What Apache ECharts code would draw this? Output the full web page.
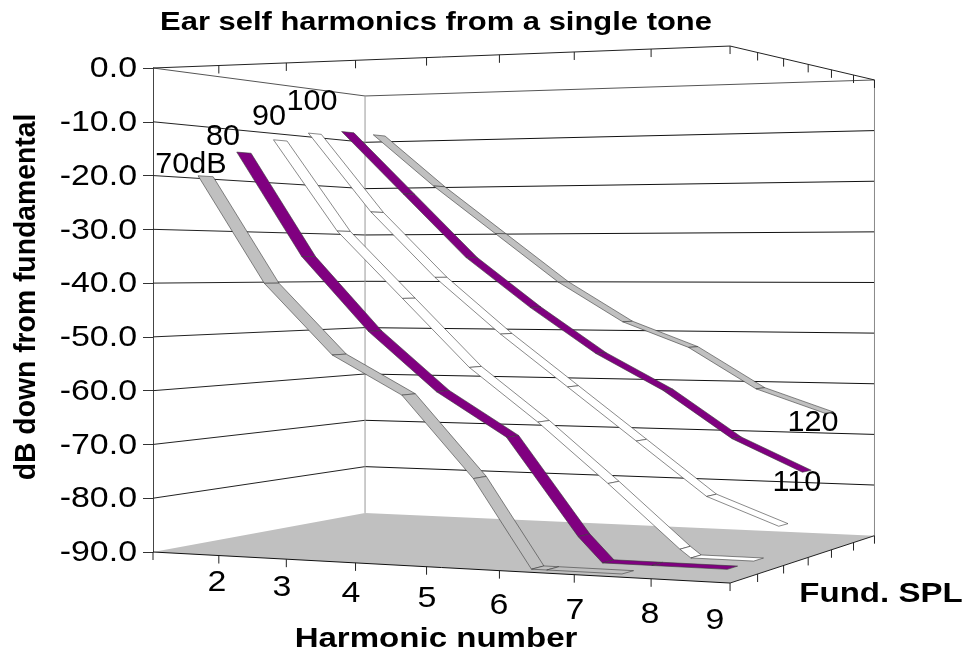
<!DOCTYPE html>
<html>
<head>
<meta charset="utf-8">
<style>
    html, body { margin: 0; padding: 0; background: #fff; }
    #main { width: 966px; height: 654px; }
</style>
<script src="https://cdn.jsdelivr.net/npm/echarts@6/dist/echarts.min.js"></script>
</head>
<body>
<div id="main"></div>
<script>
    // values, dB per harmonic. below -90 = under the floor, gets clipped
    var harmonics = [2, 3, 4, 5, 6, 7, 8, 9];
    var splNames = ['70dB', '80', '90', '100', '110', '120'];
    var spl70 = [-20, -40, -53, -60, -74.5, -94, -100, null];
    var spl80 = [-15, -35, -49, -60, -68, -85.5, -99, -105];
    var spl90 = [-12, -30, -43, -56, -66, -77, -88.5, -98.5];
    var spl100 = [-10, -26, -39, -50, -60, -70, -80, -85];
    var spl110 = [-9, -22, -35, -45, -54, -61, -70, -76];
    var spl120 = [-9, -20, -30, -40, -48, -53, -61, -65.5];
    var splColors = ['#c0c0c0', '#800080', '#ffffff', '#ffffff', '#800080', '#c0c0c0'];
    var dbTicks = [0, -10, -20, -30, -40, -50, -60, -70, -80, -90];

    var allSpl = [spl70, spl80, spl90, spl100, spl110, spl120];
    var FLOOR = -90, HALF_W = 0.032, EDGE = '#3a3a3a';
    var FONT = '"Liberation Sans", Arial, sans-serif';

    // perspective box, fitted from the eight corners of the plot
    function project(u, w, db) {
        var d = 1 - 0.0987 * u + 0.1607 * w;
        var t = (db - FLOOR) / -FLOOR;
        return [
            (505 * u + 270.7 * w + 153) / d,
            (552 - 26.5 * u + 43.4 * w - 484 * t) / d
        ];
    }

    // screen y back to the value of the y axis, so everything goes through api.coord
    function toCoord(api, p) {
        return api.coord([p[0], FLOOR + (552 - p[1]) / 484 * -FLOOR]);
    }

    function harmU(i) { return (i + 0.5) / harmonics.length; }
    function splW(j) { return (j + 0.5) / splNames.length; }

    // excel cuts the ribbon where it meets the floor and runs along it
    function clipRibbon(vals) {
        var out = [];
        for (var i = 0; i < vals.length; i++) {
            if (vals[i] === null) break;
            if (i > 0 && vals[i - 1] > FLOOR && vals[i] < FLOOR) {
                out.push([i - 1 + (vals[i - 1] - FLOOR) / (vals[i - 1] - vals[i]), FLOOR]);
            }
            out.push([i, Math.max(vals[i], FLOOR)]);
        }
        var segs = [];
        for (var k = 1; k < out.length; k++) {
            segs.push([out[k - 1][0], out[k - 1][1], out[k][0], out[k][1]]);
        }
        return segs;
    }

    function seg(api, a, b, color, width) {
        var p = toCoord(api, a), q = toCoord(api, b);
        return {
            type: 'line',
            shape: { x1: p[0], y1: p[1], x2: q[0], y2: q[1] },
            style: { stroke: color, lineWidth: width || 1 }
        };
    }

    function txt(s, x, y, size, sx, o) {
        o = o || {};
        return {
            type: 'text', x: x, y: y, scaleX: sx, scaleY: o.sy || 1, rotation: o.rot || 0,
            style: {
                text: s, x: 0, y: 0, fontFamily: FONT, fontSize: size,
                fontWeight: o.bold ? 'bold' : 'normal', fill: '#000',
                align: o.align || 'center', verticalAlign: 'middle'
            }
        };
    }

    // floor, walls, grid lines, ticks and all the text
    function renderFrame(params, api) {
        var kids = [];
        var floor = [project(0, 0, FLOOR), project(0, 1, FLOOR), project(1, 1, FLOOR), project(1, 0, FLOOR)];
        kids.push({
            type: 'polygon',
            shape: { points: floor.map(function (p) { return toCoord(api, p); }) },
            style: { fill: '#c0c0c0' }
        });

        dbTicks.forEach(function (db) {
            if (db !== FLOOR) {
                kids.push(seg(api, project(0, 0, db), project(0, 1, db), db === 0 ? '#555' : '#222'));
                kids.push(seg(api, project(0, 1, db), project(1, 1, db), db === 0 ? '#555' : '#111'));
            }
            var c = toCoord(api, project(0, 0, db));
            kids.push(txt(db.toFixed(1), 137, c[1] + 1, 30, 1.13, { align: 'right' }));
        });

        // back and right verticals, top frame, front floor edges
        kids.push(seg(api, project(0, 1, FLOOR), project(0, 1, 0), '#999'));
        kids.push(seg(api, project(1, 1, FLOOR), project(1, 1, 0), '#888'));
        kids.push(seg(api, project(0, 0, 0), project(1, 0, 0), '#222'));
        kids.push(seg(api, project(1, 0, 0), project(1, 1, 0), '#222'));
        kids.push(seg(api, project(0, 0, FLOOR), project(1, 0, FLOOR), '#111'));
        kids.push(seg(api, project(1, 0, FLOOR), project(1, 1, FLOOR), '#222'));

        function tick(p) {
            kids.push(seg(api, p, [p[0], p[1] + 8], '#222'));
        }
        for (var i = 0; i <= harmonics.length; i++) {
            tick(project(i / harmonics.length, 0, FLOOR));
            if (i > 0) tick(project(i / harmonics.length, 0, 0));
        }
        for (var j = 1; j <= splNames.length; j++) {
            tick(project(1, j / splNames.length, FLOOR));
            tick(project(1, j / splNames.length, 0));
        }

        // harmonic labels sit a bit lower as they go right, same as the excel export
        var harmX = [217, 282, 351, 427, 499, 575, 650, 715];
        var harmY = [583, 588, 594, 599, 606, 611, 615, 621];
        harmonics.forEach(function (h, k) {
            kids.push(txt(String(h), harmX[k], harmY[k], 30, 1.13));
        });

        kids.push(txt('Ear self harmonics from a single tone', 436, 23, 26, 1.19, { bold: true }));
        kids.push(txt('dB down from fundamental', 27, 297, 24, 1.18, { bold: true, rot: Math.PI / 2, sy: 1.2 }));
        kids.push(txt('Harmonic number', 436, 639, 28, 1.18, { bold: true }));
        kids.push(txt('Fund. SPL', 881, 594, 28, 1.18, { bold: true }));

        // series names next to their ribbons
        kids.push(txt(splNames[0], 191, 165, 30, 1.02));
        kids.push(txt(splNames[1], 223, 137, 30, 1.02));
        kids.push(txt(splNames[2], 269, 117, 30, 1.02));
        kids.push(txt(splNames[3], 312, 102, 30, 1.02));
        kids.push(txt(splNames[4], 797, 483, 30, 1.02));
        kids.push(txt(splNames[5], 813, 423, 30, 1.02));

        return { type: 'group', children: kids };
    }

    function ribbonSeries(j) {
        return {
            type: 'custom',
            name: splNames[j],
            coordinateSystem: 'cartesian2d',
            clip: false,
            silent: true,
            data: clipRibbon(allSpl[j]),
            renderItem: function (params, api) {
                var u1 = harmU(api.value(0)), db1 = api.value(1);
                var u2 = harmU(api.value(2)), db2 = api.value(3);
                var w = splW(j);
                var pts = [
                    project(u1, w - HALF_W, db1), project(u1, w + HALF_W, db1),
                    project(u2, w + HALF_W, db2), project(u2, w - HALF_W, db2)
                ];
                return {
                    type: 'polygon',
                    shape: { points: pts.map(function (p) { return toCoord(api, p); }) },
                    style: { fill: splColors[j], stroke: EDGE, lineWidth: 0.6 }
                };
            }
        };
    }

    var series = [{
        type: 'custom',
        coordinateSystem: 'cartesian2d',
        clip: false,
        silent: true,
        data: [[153, 0]],
        renderItem: renderFrame
    }];
    // far ribbon first so the near ones paint over it
    for (var j = splNames.length - 1; j >= 0; j--) {
        series.push(ribbonSeries(j));
    }

    var myChart = echarts.init(document.getElementById('main'), null, { renderer: 'canvas' });
    myChart.setOption({
        animation: false,
        backgroundColor: '#fff',
        grid: { left: 153, top: 68, width: 720, height: 484 },
        xAxis: { type: 'value', min: 153, max: 873, show: false },
        yAxis: {
            type: 'value', min: -90, max: 0, interval: 10,
            axisLine: { show: true, lineStyle: { color: '#444' } },
            axisTick: { show: true, length: 10, lineStyle: { color: '#333' } },
            axisLabel: { show: false },
            splitLine: { show: false }
        },
        series: series
    });
</script>
</body>
</html>
